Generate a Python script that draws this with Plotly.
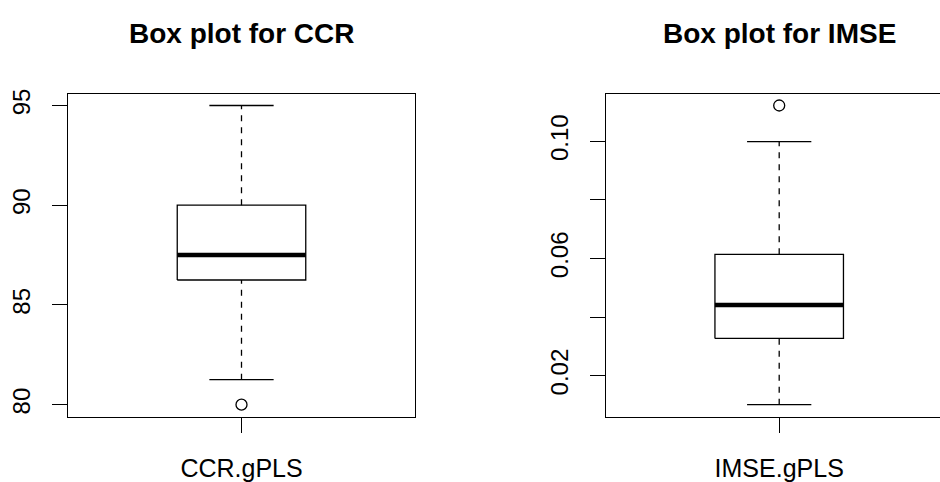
import plotly.graph_objects as go

# Summary statistics of the two gPLS performance measures
ccr_label = "CCR.gPLS"
ccr_whisker_low = 81.25
ccr_q1 = 86.25
ccr_median = 87.5
ccr_q3 = 90.0
ccr_whisker_high = 95.0
ccr_outliers = [80.0]
ccr_ticks = [80, 85, 90, 95]
ccr_ticktext = ["80", "85", "90", "95"]

imse_label = "IMSE.gPLS"
imse_whisker_low = 0.0101
imse_q1 = 0.0327
imse_median = 0.0441
imse_q3 = 0.0614
imse_whisker_high = 0.0999
imse_outliers = [0.1122]
imse_ticks = [0.02, 0.04, 0.06, 0.08, 0.10]
imse_ticktext = ["0.02", "", "0.06", "", "0.10"]

FONT = "Liberation Sans, Arial, Helvetica, sans-serif"
W, H = 940, 482
LW = 1.3
POS = 1.0          # box position on the x axis
HALF = 0.2         # half box width
CAP = 0.1          # half whisker-cap width


def yrange(lo, hi):
    pad = (hi - lo) * 0.04
    return [lo - pad, hi + pad]


def add_box(fig, xa, ya, lo, q1, med, q3, hi, outs):
    ref = dict(xaxis=xa, yaxis=ya, showlegend=False, hoverinfo="skip", mode="lines")
    # dashed whiskers
    fig.add_trace(go.Scatter(x=[POS, POS], y=[q3, hi],
                             line=dict(color="black", width=LW, dash="6px,6px"), **ref))
    fig.add_trace(go.Scatter(x=[POS, POS], y=[lo, q1],
                             line=dict(color="black", width=LW, dash="6px,6px"), **ref))
    # whisker caps
    for v in (lo, hi):
        fig.add_trace(go.Scatter(x=[POS - CAP, POS + CAP], y=[v, v],
                                 line=dict(color="black", width=LW), **ref))
    # box
    fig.add_trace(go.Scatter(x=[POS - HALF, POS + HALF, POS + HALF, POS - HALF, POS - HALF],
                             y=[q1, q1, q3, q3, q1],
                             line=dict(color="black", width=LW), **ref))
    # median
    fig.add_trace(go.Scatter(x=[POS - HALF, POS + HALF], y=[med, med],
                             line=dict(color="black", width=4.5), **ref))
    # outliers
    fig.add_trace(go.Scatter(x=[POS] * len(outs), y=outs, mode="markers",
                             marker=dict(symbol="circle-open", size=11, color="black",
                                         line=dict(width=LW)),
                             xaxis=xa, yaxis=ya, showlegend=False, hoverinfo="skip"))


fig = go.Figure()
add_box(fig, "x", "y", ccr_whisker_low, ccr_q1, ccr_median, ccr_q3, ccr_whisker_high, ccr_outliers)
add_box(fig, "x2", "y2", imse_whisker_low, imse_q1, imse_median, imse_q3, imse_whisker_high, imse_outliers)

ylo, yhi = 1 - 423 / H, 1 - 91 / H
xr_full = [0.46, 1.54]
# right panel runs past the page edge; show the visible part of its range
right_left, right_full_right = 605.7, 952.7
vis_frac = (W - right_left) / (right_full_right - right_left)
xr_right = [xr_full[0], xr_full[0] + (xr_full[1] - xr_full[0]) * vis_frac]

axis_common = dict(showgrid=False, zeroline=False, showline=True, linecolor="black",
                   linewidth=LW, ticks="outside", ticklen=15, tickwidth=LW,
                   tickcolor="black")
xfont = dict(family=FONT, size=25, color="black")
yfont = dict(family=FONT, size=24, color="black")

fig.update_layout(
    width=W, height=H,
    margin=dict(l=0, r=0, t=0, b=0),
    paper_bgcolor="white", plot_bgcolor="white",
    xaxis=dict(domain=[68 / W, 415 / W], range=xr_full, tickvals=[POS], ticktext=[ccr_label],
               mirror=True, ticklabelstandoff=14, tickfont=xfont, **axis_common),
    yaxis=dict(domain=[ylo, yhi], range=yrange(min(ccr_outliers + [ccr_whisker_low]),
                                               max(ccr_outliers + [ccr_whisker_high])),
               tickvals=ccr_ticks, ticktext=ccr_ticktext, tickangle=-90,
               mirror=True, ticklabelstandoff=12, tickfont=yfont, **axis_common),
    xaxis2=dict(domain=[right_left / W, 1.0], range=xr_right, tickvals=[POS],
                ticktext=[imse_label], anchor="y2", mirror=True, ticklabelstandoff=14,
                tickfont=xfont, **axis_common),
    yaxis2=dict(domain=[ylo, yhi], anchor="x2",
                range=yrange(min(imse_outliers + [imse_whisker_low]),
                             max(imse_outliers + [imse_whisker_high])),
                tickvals=imse_ticks, ticktext=imse_ticktext, tickangle=-90,
                mirror=False, ticklabelstandoff=12, tickfont=yfont, **axis_common),
    annotations=[
        dict(text="<b>Box plot for CCR</b>", xref="x", yref="paper", x=POS, y=1 - 29 / H,
             xanchor="center", yanchor="middle", showarrow=False,
             font=dict(family=FONT, size=28, color="black")),
        dict(text="<b>Box plot for IMSE</b>", xref="x2", yref="paper", x=POS, y=1 - 29 / H,
             xanchor="center", yanchor="middle", showarrow=False,
             font=dict(family=FONT, size=28, color="black")),
    ],
)

fig.write_html("out.html")
